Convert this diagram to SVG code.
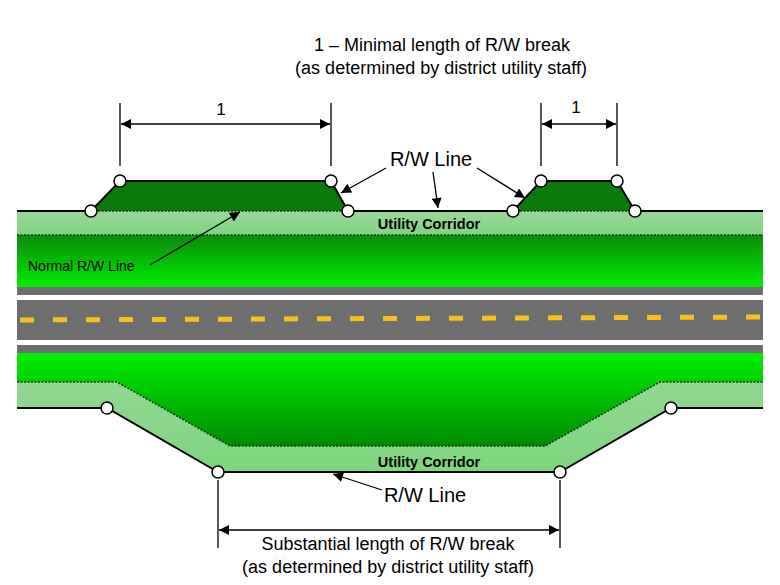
<svg xmlns="http://www.w3.org/2000/svg" width="780" height="585" viewBox="0 0 780 585">
<defs>
<linearGradient id="gTop" x1="0" y1="0" x2="0" y2="1"><stop offset="0" stop-color="#0a8a0a"/><stop offset="1" stop-color="#00ee00"/></linearGradient>
<linearGradient id="gBot" x1="0" y1="0" x2="0" y2="1"><stop offset="0" stop-color="#00f000"/><stop offset="1" stop-color="#008a00"/></linearGradient>
<linearGradient id="gUtil" x1="0" y1="0" x2="0" y2="1"><stop offset="0" stop-color="#9bd69b"/><stop offset="1" stop-color="#7dd67d"/></linearGradient>
<marker id="ah" viewBox="0 0 10 10" refX="10" refY="5" markerWidth="12" markerHeight="10" markerUnits="userSpaceOnUse" orient="auto-start-reverse"><path d="M0,0L10,5L0,10z" fill="#000"/></marker>
</defs>
<style>
.t{font-family:"Liberation Sans",Arial,sans-serif;fill:#000}
.ld{stroke:#000;stroke-width:1.3;fill:none}
.rw{stroke:#000;stroke-width:2;fill:none}
.dot{stroke:#0a3a0a;stroke-width:1.6;stroke-dasharray:2 1.5;fill:none}
.c{fill:#fff;stroke:#000;stroke-width:1.5}
.ar{stroke:#000;stroke-width:1.3;fill:none;marker-end:url(#ah)}
</style>
<rect width="780" height="585" fill="#fff"/>
<g id="ground">
<rect x="17" y="211" width="746" height="24" fill="url(#gUtil)"/>
<rect x="17" y="235" width="746" height="52" fill="url(#gTop)"/>
<rect x="17" y="287" width="746" height="8" fill="#6e6e6e"/>
<rect x="17" y="300" width="746" height="40" fill="#6e6e6e"/>
<line x1="20" y1="320" x2="760" y2="317" stroke="#f5c21b" stroke-width="5" stroke-dasharray="14 19"/>
<rect x="17" y="345" width="746" height="8" fill="#6e6e6e"/>
<path d="M17,353H763V408H671L560,472H218L107,408H17Z" fill="url(#gUtil)"/>
<path d="M17,353H763V382H660L545,446H230L117,382H17Z" fill="url(#gBot)"/>
<path class="dot" d="M17,382H117L230,446H545L660,382H763"/>
<path class="dot" d="M17,235H763"/>
<path d="M91,211L120,181H331L348,211Z" fill="#0a7a0a"/>
<path d="M513,211L541,181H617L635,211Z" fill="#0a7a0a"/>
<path class="dot" d="M91,211H348M513,211H635"/>
<path class="rw" d="M17,211H91L120,181H331L348,211H513L541,181H617L635,211H763"/>
<path class="rw" d="M17,408H107L218,472H560L671,408H763"/>
</g>
<g id="points">
<circle class="c" cx="91" cy="211" r="6"/><circle class="c" cx="120" cy="181" r="6"/><circle class="c" cx="331" cy="181" r="6"/><circle class="c" cx="348" cy="211" r="6"/>
<circle class="c" cx="513" cy="211" r="6"/><circle class="c" cx="541" cy="181" r="6"/><circle class="c" cx="617" cy="181" r="6"/><circle class="c" cx="635" cy="211" r="6"/>
<circle class="c" cx="107" cy="408" r="6"/><circle class="c" cx="218" cy="472" r="6"/><circle class="c" cx="560" cy="472" r="6"/><circle class="c" cx="671" cy="408" r="6"/>
</g>
<g id="connectors">
<path class="ld" d="M120,103V166M331,103V166M541,103V166M617,103V166M218,480V548M560,480V548"/>
<line class="ar" x1="225" y1="124" x2="121" y2="124" /><line class="ar" x1="225" y1="124" x2="330" y2="124"/>
<line class="ar" x1="579" y1="124" x2="542" y2="124"/><line class="ar" x1="579" y1="124" x2="616" y2="124"/>
<line class="ar" x1="389" y1="530" x2="219" y2="530"/><line class="ar" x1="389" y1="530" x2="559" y2="530"/>
<line class="ar" x1="386" y1="168" x2="341" y2="193"/>
<line class="ar" x1="433" y1="172" x2="438" y2="208"/>
<line class="ar" x1="477" y1="168" x2="525" y2="198"/>
<line class="ar" x1="150" y1="265" x2="240" y2="212"/>
<line class="ar" x1="382" y1="490" x2="333" y2="474"/>
</g>
<g id="labels">
<text class="t" x="442" y="51" font-size="18" text-anchor="middle">1 – Minimal length of R/W break</text>
<text class="t" x="441" y="74" font-size="18" text-anchor="middle">(as determined by district utility staff)</text>
<text class="t" x="221" y="115" font-size="17" text-anchor="middle">1</text>
<text class="t" x="576" y="113" font-size="17" text-anchor="middle">1</text>
<text class="t" x="431" y="166" font-size="20" text-anchor="middle">R/W Line</text>
<text class="t" x="429" y="229" font-size="14.5" font-weight="bold" text-anchor="middle">Utility Corridor</text>
<text class="t" x="28" y="271" font-size="14" fill="#0a3a0a">Normal R/W Line</text>
<text class="t" x="429" y="467" font-size="14.5" font-weight="bold" text-anchor="middle">Utility Corridor</text>
<text class="t" x="425" y="502" font-size="20" text-anchor="middle">R/W Line</text>
<text class="t" x="388" y="550" font-size="18" text-anchor="middle">Substantial length of R/W break</text>
<text class="t" x="388" y="573" font-size="18" text-anchor="middle">(as determined by district utility staff)</text>
</g>
</svg>
